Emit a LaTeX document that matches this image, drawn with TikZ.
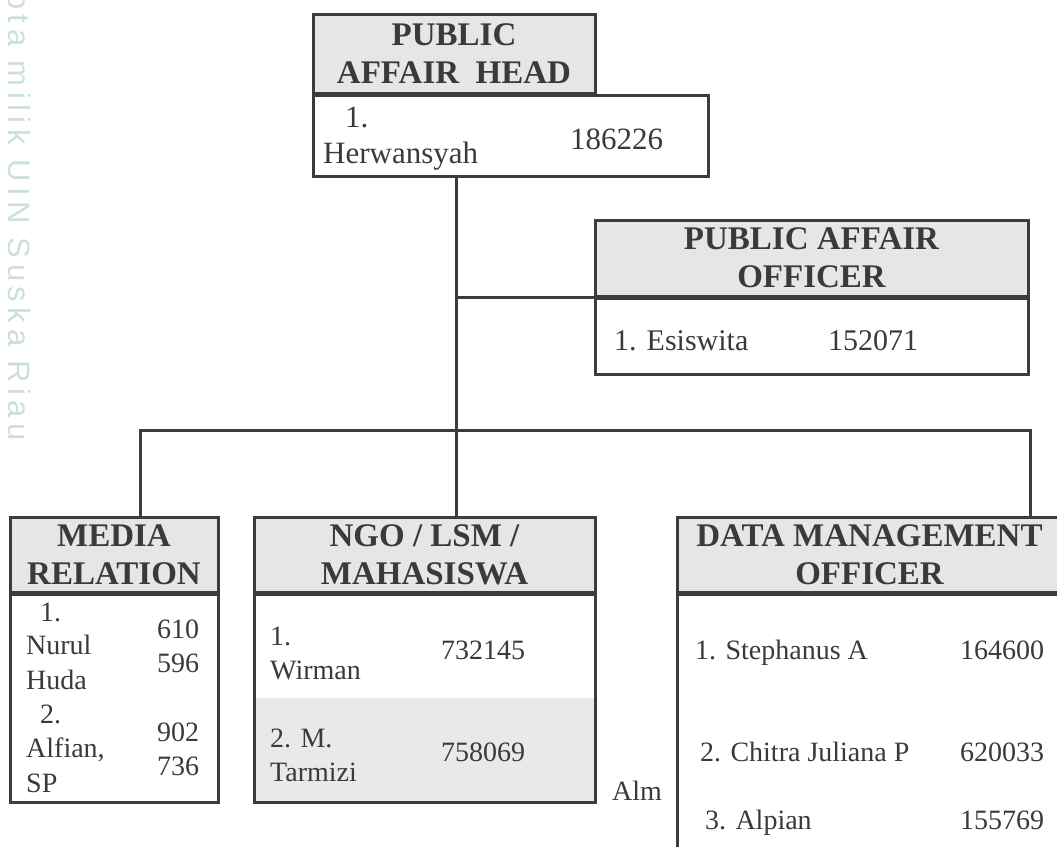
\documentclass[tikz,border=0pt]{standalone}
\usepackage{fontspec}
\setmainfont{Liberation Serif}
\newfontfamily\markfont{Liberation Sans}
\definecolor{boxline}{HTML}{3C3C3C}
\definecolor{titlefill}{HTML}{E6E6E6}
\definecolor{rowfill}{HTML}{E9E9E9}
\definecolor{inkgray}{HTML}{3A3A3A}
\definecolor{markgreen}{HTML}{CCE0DA}
\tikzset{
  titlebox/.style={draw=boxline, line width=3pt, fill=titlefill, inner sep=0pt,
    align=center, text=inkgray, font=\fontsize{33}{38}\selectfont\bfseries},
  listbox/.style={draw=boxline, line width=3pt, fill=white, inner sep=0pt},
  entry/.style={anchor=base west, inner sep=0pt, text=inkgray,
    font=\fontsize{28}{33}\selectfont},
  bigentry/.style={entry, font=\fontsize{31}{36}\selectfont},
  link/.style={draw=boxline, line width=3pt}
}

\begin{document}
\begin{tikzpicture}[x=1pt, y=-1pt]
			%%%%% START %%%%%
			\useasboundingbox (0,0) rectangle (1057,846);
			
			% watermark at the left margin
			\node[rotate=-90, anchor=west, inner sep=0pt, text=markgreen,
			  font=\markfont\addfontfeatures{LetterSpace=18}\fontsize{31}{31}\selectfont] (mark) at (20,-8) {ota milik UIN Suska Riau};
			
			% head
			\node[titlebox, minimum width=282, minimum height=79] (headT) at (454,53.5) {PUBLIC\\AFFAIR\ \ HEAD};
			\node[listbox, minimum width=395, minimum height=81] (headB) at (510.5,135.5) {};
			\node[bigentry] (headN1) at (345,127) {1.};
			\node[bigentry] (headN2) at (323,163) {Herwansyah};
			\node[bigentry] (headNr) at (570,149) {186226};
			
			% officer
			\node[titlebox, minimum width=433, minimum height=76] (offT) at (811.5,258) {PUBLIC AFFAIR\\OFFICER};
			\node[listbox, minimum width=433, minimum height=76] (offB) at (811.5,336) {};
			\node[entry, font=\fontsize{30}{35}\selectfont] (offN) at (614,350) {1. Esiswita};
			\node[entry, font=\fontsize{30}{35}\selectfont] (offNr) at (828,350) {152071};
			
			% media relation
			\node[titlebox, minimum width=208, minimum height=75] (medT) at (114,554.5) {MEDIA\\RELATION};
			\node[listbox, minimum width=208, minimum height=208] (medB) at (114,698) {};
			\node[entry] (medA1) at (40,621) {1.};
			\node[entry] (medA2) at (26,654) {Nurul};
			\node[entry] (medA3) at (26,689) {Huda};
			\node[entry] (medB1) at (40,723) {2.};
			\node[entry] (medB2) at (26,757) {Alfian,};
			\node[entry] (medB3) at (26,792) {SP};
			\node[entry] (medAr1) at (157,638) {610};
			\node[entry] (medAr2) at (157,672) {596};
			\node[entry] (medBr1) at (157,741) {902};
			\node[entry] (medBr2) at (157,775) {736};
			
			% ngo / lsm / mahasiswa
			\node[titlebox, minimum width=341, minimum height=75] (ngoT) at (424.5,554.5) {NGO / LSM /\\MAHASISWA};
			\node[listbox, minimum width=341, minimum height=208,
			  path picture={\fill[rowfill] (path picture bounding box.west) rectangle (path picture bounding box.south east);}] (ngoB) at (424.5,698) {};
			\node[entry] (ngoA1) at (270,645) {1.};
			\node[entry] (ngoA2) at (270,679) {Wirman};
			\node[entry] (ngoAr) at (441,659) {732145};
			\node[entry] (ngoB1) at (270,747) {2. M.};
			\node[entry] (ngoB2) at (270,781) {Tarmizi};
			\node[entry] (ngoBr) at (441,761) {758069};
			\node[entry] (alm) at (612,800) {Alm};
			
			% data management officer
			\node[titlebox, minimum width=385, minimum height=75] (dmoT) at (869.5,554.5) {DATA MANAGEMENT\\OFFICER};
			\node[listbox, minimum width=385, minimum height=266] (dmoB) at (869.5,727) {};
			\node[entry] (dmoA) at (695,659) {1. Stephanus A};
			\node[entry] (dmoAr) at (960,659) {164600};
			\node[entry] (dmoB1) at (700,761) {2. Chitra Juliana P};
			\node[entry] (dmoBr) at (960,761) {620033};
			\node[entry] (dmoC) at (705,829) {3. Alpian};
			\node[entry] (dmoCr) at (960,829) {155769};
			
			% connectors
			\coordinate (hub) at (456,430);
			\coordinate (busL) at (140,430);
			\coordinate (busR) at (1030,430);
			\draw[link] (hub |- headB.south) -- (hub |- ngoT.north);
			\draw[link] (hub |- offT.south west) -- (offT.south west);
			\draw[link] (busL |- medT.north) -- (busL) -- (busR) -- (busR |- dmoT.north);
			
			%%%%% END %%%%%
\end{tikzpicture}
\end{document}
